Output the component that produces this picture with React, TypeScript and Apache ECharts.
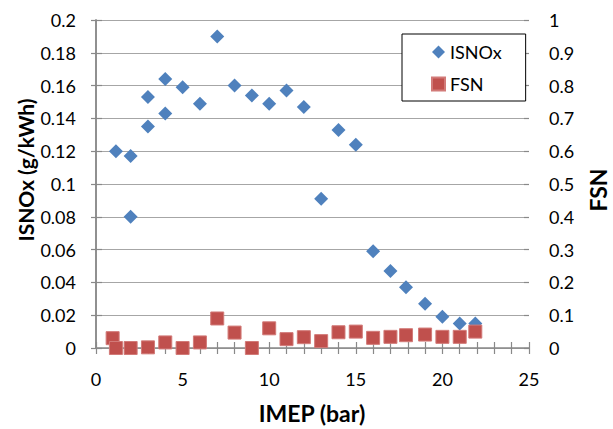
import { useEffect, useRef } from "react";
import * as echarts from "echarts";

const isnoxX = [1.15, 2, 2, 3, 3, 4, 4, 5, 6, 7, 8, 9, 10, 11, 12, 13, 14, 15, 16, 17, 17.9, 19, 20, 21, 21.9];
const isnoxY = [0.12, 0.117, 0.08, 0.153, 0.135, 0.164, 0.143, 0.159, 0.149, 0.19, 0.16, 0.154, 0.149, 0.157, 0.147, 0.091, 0.133, 0.124, 0.059, 0.047, 0.037, 0.027, 0.019, 0.015, 0.015];
const fsnX = [0.96, 1.15, 2, 3, 4, 5, 6, 7, 8, 9, 10, 11, 12, 13, 14, 15, 16, 17, 17.9, 19, 20, 21, 21.9];
const fsnY = [0.03, 0, 0, 0.002, 0.017, 0, 0.017, 0.09, 0.047, 0, 0.06, 0.027, 0.033, 0.021, 0.048, 0.05, 0.031, 0.034, 0.039, 0.041, 0.034, 0.034, 0.05];

const FONT = "Lato";
const AXIS_COLOR = "#898989";

export default function App() {
  const ref = useRef<HTMLDivElement>(null);
  useEffect(() => {
    if (!ref.current) return;
    const chart = echarts.init(ref.current, undefined, { renderer: "svg" });
    const tickStyle = { color: AXIS_COLOR, width: 1.2 };
    const labelStyle = { fontSize: 18, fontFamily: FONT, color: "#000" };
    chart.setOption({
      animation: false,
      backgroundColor: "#fff",
      grid: { left: 96, right: 84, top: 20, bottom: 81 },
      xAxis: [
        {
          type: "value",
          min: 0,
          max: 25,
          interval: 1,
          axisLine: { show: true, lineStyle: { color: AXIS_COLOR, width: 1.5 } },
          axisTick: { show: true, length: 6, lineStyle: tickStyle },
          splitLine: { show: false },
          axisLabel: {
            ...labelStyle,
            margin: 22,
            formatter: (v: number) => (v % 5 === 0 ? String(v) : ""),
          },
        },
        {
          type: "value",
          position: "bottom",
          min: 0,
          max: 25,
          interval: 1,
          axisLine: { show: false },
          axisTick: { show: true, inside: true, length: 6, lineStyle: tickStyle },
          splitLine: { show: false },
          axisLabel: { show: false },
        },
      ],
      yAxis: [
        {
          type: "value",
          position: "left",
          min: 0,
          max: 0.2,
          interval: 0.02,
          axisLine: { show: true, lineStyle: { color: AXIS_COLOR, width: 1.5 } },
          axisTick: { show: true, length: 5, lineStyle: tickStyle },
          splitLine: { show: true, lineStyle: { color: "#a6a6a6", width: 1.2 } },
          axisLabel: {
            ...labelStyle,
            margin: 20,
            formatter: (v: number) => String(+v.toFixed(2)),
          },
        },
        {
          type: "value",
          position: "right",
          min: 0,
          max: 1,
          interval: 0.1,
          axisLine: { show: true, lineStyle: { color: AXIS_COLOR, width: 1.5 } },
          axisTick: { show: true, length: 6, lineStyle: tickStyle },
          splitLine: { show: false },
          axisLabel: {
            ...labelStyle,
            margin: 20,
            formatter: (v: number) => String(+v.toFixed(1)),
          },
        },
        {
          type: "value",
          position: "right",
          min: 0,
          max: 1,
          interval: 0.1,
          axisLine: { show: false },
          axisTick: { show: true, inside: true, length: 5, lineStyle: tickStyle },
          splitLine: { show: false },
          axisLabel: { show: false },
        },
      ],
      legend: {
        orient: "vertical",
        left: 402,
        top: 34,
        itemWidth: 13,
        itemHeight: 13,
        itemGap: 14,
        padding: [9, 24, 8, 29],
        borderColor: "#000",
        borderWidth: 1,
        backgroundColor: "#fff",
        textStyle: { fontSize: 18, fontFamily: FONT, color: "#000" },
        data: [
          { name: "ISNOx", icon: "diamond" },
          { name: "FSN", icon: "rect" },
        ],
      },
      series: [
        {
          name: "ISNOx",
          type: "scatter",
          xAxisIndex: 0,
          yAxisIndex: 0,
          symbol: "diamond",
          symbolSize: 14,
          itemStyle: { color: "#4f81bd", opacity: 1 },
          data: isnoxX.map((x, i) => [x, isnoxY[i]]),
        },
        {
          name: "FSN",
          type: "scatter",
          xAxisIndex: 0,
          yAxisIndex: 1,
          symbol: "rect",
          symbolSize: 13,
          itemStyle: { color: "#c0504d", borderColor: "#d27a78", borderWidth: 1, opacity: 1 },
          data: fsnX.map((x, i) => [x, fsnY[i]]),
        },
      ],
      graphic: [
        {
          type: "text",
          x: 25,
          y: 170,
          rotation: Math.PI / 2,
          style: {
            text: "ISNOx (g/kWh)",
            fontSize: 21,
            fontWeight: "bold",
            fontFamily: FONT,
            fill: "#000",
            align: "center",
            verticalAlign: "middle",
          },
        },
        {
          type: "text",
          x: 598,
          y: 190,
          rotation: Math.PI / 2,
          style: {
            text: "FSN",
            fontSize: 23,
            fontWeight: "bold",
            fontFamily: FONT,
            fill: "#000",
            align: "center",
            verticalAlign: "middle",
          },
        },
        {
          type: "text",
          x: 312,
          y: 413,
          style: {
            text: "IMEP (bar)",
            fontSize: 23,
            fontWeight: "bold",
            fontFamily: FONT,
            fill: "#000",
            align: "center",
            verticalAlign: "middle",
          },
        },
      ],
    });
    return () => chart.dispose();
  }, []);
  return (
    <div
      ref={ref}
      style={{ position: "absolute", left: 0, top: 0, width: 613, height: 429 }}
    />
  );
}
